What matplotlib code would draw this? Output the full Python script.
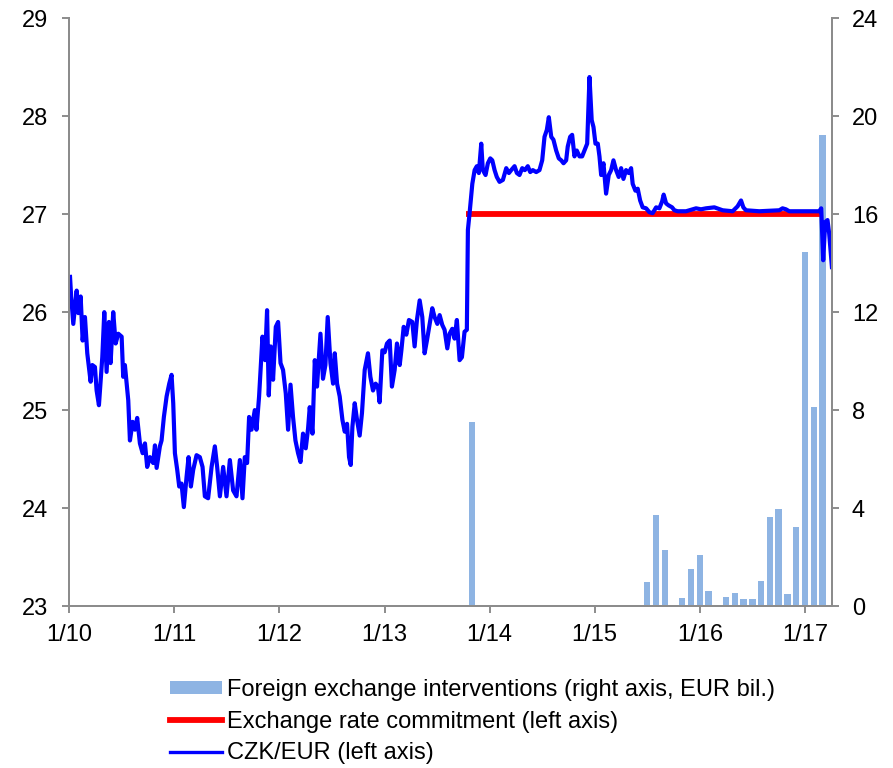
import matplotlib
matplotlib.use("Agg")
import matplotlib.pyplot as plt
from matplotlib.patches import Patch
from matplotlib.lines import Line2D

plt.rcParams['font.family'] = ['Liberation Sans', 'DejaVu Sans']

# ---- data ----
# monthly FX interventions (EUR bil.), month label "YYYY-MM"
int_months = ["2013-11", "2015-07", "2015-08", "2015-09", "2015-10", "2015-11", "2015-12",
              "2016-01", "2016-02", "2016-03", "2016-04", "2016-05", "2016-06", "2016-07",
              "2016-08", "2016-09", "2016-10", "2016-11", "2016-12",
              "2017-01", "2017-02", "2017-03"]
int_values = [7.5, 1.0, 3.7, 2.3, 0.0, 0.34, 1.5,
              2.1, 0.6, 0.0, 0.35, 0.55, 0.29, 0.29,
              1.02, 3.65, 3.95, 0.5, 3.22,
              14.45, 8.12, 19.22]

# CZK/EUR (time as decimal year)
czk_t = [2010.007, 2010.016, 2010.038, 2010.070, 2010.086, 2010.108, 2010.127, 2010.149, 2010.171, 2010.203,
         2010.219, 2010.244, 2010.260, 2010.282, 2010.314, 2010.333, 2010.355, 2010.377, 2010.393, 2010.418,
         2010.441, 2010.466, 2010.498, 2010.513, 2010.529, 2010.561, 2010.577, 2010.603, 2010.625, 2010.646,
         2010.672, 2010.698, 2010.720, 2010.741, 2010.767, 2010.798, 2010.815, 2010.831, 2010.862, 2010.878,
         2010.900, 2010.926, 2010.951, 2010.973, 2010.989, 2011.005, 2011.027, 2011.046, 2011.068, 2011.090,
         2011.116, 2011.135, 2011.157, 2011.179, 2011.211, 2011.242, 2011.268, 2011.290, 2011.321, 2011.354,
         2011.385, 2011.407, 2011.433, 2011.464, 2011.496, 2011.528, 2011.559, 2011.591, 2011.623, 2011.648,
         2011.670, 2011.692, 2011.711, 2011.734, 2011.765, 2011.781, 2011.806, 2011.838, 2011.863, 2011.882,
         2011.898, 2011.917, 2011.939, 2011.965, 2011.987, 2012.010, 2012.034, 2012.060, 2012.082, 2012.105,
         2012.129, 2012.152, 2012.177, 2012.200, 2012.224, 2012.250, 2012.272, 2012.288, 2012.314, 2012.336,
         2012.357, 2012.390, 2012.414, 2012.437, 2012.459, 2012.485, 2012.510, 2012.526, 2012.548, 2012.573,
         2012.599, 2012.621, 2012.643, 2012.662, 2012.678, 2012.694, 2012.716, 2012.738, 2012.763, 2012.785,
         2012.811, 2012.842, 2012.865, 2012.890, 2012.915, 2012.937, 2012.953, 2012.979, 2013.001, 2013.023,
         2013.049, 2013.070, 2013.096, 2013.118, 2013.144, 2013.160, 2013.182, 2013.207, 2013.232, 2013.264,
         2013.286, 2013.308, 2013.334, 2013.359, 2013.381, 2013.403, 2013.429, 2013.454, 2013.476, 2013.502,
         2013.524, 2013.549, 2013.571, 2013.597, 2013.619, 2013.644, 2013.666, 2013.688, 2013.714, 2013.736,
         2013.761, 2013.783, 2013.793, 2013.809, 2013.835, 2013.857, 2013.878, 2013.897, 2013.920, 2013.935,
         2013.961, 2013.983, 2014.006, 2014.025, 2014.047, 2014.068, 2014.094, 2014.126, 2014.158, 2014.183,
         2014.205, 2014.237, 2014.259, 2014.284, 2014.310, 2014.335, 2014.363, 2014.386, 2014.411, 2014.443,
         2014.474, 2014.500, 2014.522, 2014.544, 2014.563, 2014.586, 2014.607, 2014.633, 2014.658, 2014.681,
         2014.703, 2014.728, 2014.743, 2014.766, 2014.785, 2014.807, 2014.829, 2014.855, 2014.880, 2014.902,
         2014.928, 2014.950, 2014.971, 2014.988, 2015.007, 2015.029, 2015.045, 2015.061, 2015.083, 2015.108,
         2015.133, 2015.156, 2015.178, 2015.203, 2015.228, 2015.251, 2015.273, 2015.298, 2015.323, 2015.346,
         2015.361, 2015.387, 2015.409, 2015.432, 2015.456, 2015.489, 2015.520, 2015.551, 2015.584, 2015.615,
         2015.641, 2015.656, 2015.679, 2015.703, 2015.736, 2015.758, 2015.789, 2015.869, 2015.964, 2016.011,
         2016.059, 2016.138, 2016.217, 2016.312, 2016.359, 2016.392, 2016.414, 2016.439, 2016.566, 2016.756,
         2016.787, 2016.819, 2016.851, 2017.136, 2017.155, 2017.174, 2017.193, 2017.215, 2017.231, 2017.257]
czk_v = [26.36, 26.19, 25.88, 26.22, 25.99, 26.16, 25.71, 25.95, 25.58, 25.29,
         25.46, 25.44, 25.20, 25.05, 25.54, 26.00, 25.39, 25.90, 25.48, 26.00,
         25.68, 25.78, 25.75, 25.34, 25.46, 25.10, 24.69, 24.88, 24.80, 24.92,
         24.66, 24.56, 24.66, 24.42, 24.52, 24.46, 24.64, 24.41, 24.63, 24.69,
         24.93, 25.14, 25.27, 25.36, 25.07, 24.56, 24.39, 24.22, 24.25, 24.01,
         24.32, 24.52, 24.22, 24.39, 24.54, 24.52, 24.42, 24.12, 24.10, 24.42,
         24.63, 24.42, 24.12, 24.42, 24.12, 24.49, 24.18, 24.12, 24.49, 24.10,
         24.52, 24.46, 24.93, 24.80, 25.00, 24.80, 25.14, 25.75, 25.51, 26.02,
         25.15, 25.65, 25.31, 25.85, 25.90, 25.48, 25.41, 25.17, 24.80, 25.26,
         24.93, 24.69, 24.56, 24.47, 24.76, 24.61, 24.81, 25.03, 24.76, 25.51,
         25.24, 25.78, 25.32, 25.46, 25.95, 25.48, 25.27, 25.58, 25.27, 25.14,
         24.90, 24.78, 24.86, 24.52, 24.44, 24.83, 25.07, 24.90, 24.74, 24.97,
         25.41, 25.58, 25.34, 25.20, 25.27, 25.24, 25.08, 25.61, 25.59, 25.68,
         25.71, 25.24, 25.41, 25.68, 25.46, 25.61, 25.85, 25.77, 25.92, 25.90,
         25.65, 25.92, 26.12, 25.95, 25.58, 25.71, 25.88, 26.04, 25.95, 25.88,
         25.97, 25.87, 25.82, 25.63, 25.78, 25.83, 25.73, 25.92, 25.51, 25.54,
         25.80, 25.82, 26.84, 27.01, 27.31, 27.45, 27.49, 27.42, 27.72, 27.45,
         27.40, 27.52, 27.57, 27.55, 27.45, 27.38, 27.33, 27.35, 27.47, 27.42,
         27.45, 27.49, 27.42, 27.40, 27.47, 27.45, 27.49, 27.43, 27.45, 27.43,
         27.45, 27.55, 27.79, 27.86, 27.99, 27.79, 27.76, 27.65, 27.57, 27.55,
         27.52, 27.55, 27.69, 27.79, 27.81, 27.59, 27.65, 27.59, 27.59, 27.65,
         27.72, 28.40, 27.96, 27.89, 27.72, 27.72, 27.59, 27.40, 27.52, 27.21,
         27.40, 27.45, 27.55, 27.45, 27.38, 27.47, 27.36, 27.45, 27.42, 27.47,
         27.31, 27.24, 27.26, 27.14, 27.07, 27.06, 27.02, 27.01, 27.07, 27.06,
         27.13, 27.20, 27.11, 27.09, 27.07, 27.04, 27.03, 27.03, 27.06, 27.05,
         27.06, 27.07, 27.04, 27.03, 27.08, 27.14, 27.07, 27.04, 27.03, 27.04,
         27.06, 27.05, 27.03, 27.03, 27.06, 26.53, 26.92, 26.94, 26.80, 26.46]

# exchange rate commitment
commit_start = 2013.778
commit_end = 2017.155
commit_level = 27.0

year_ticks = [2010, 2011, 2012, 2013, 2014, 2015, 2016, 2017]
year_labels = ["1/10", "1/11", "1/12", "1/13", "1/14", "1/15", "1/16", "1/17"]

# ---- figure ----
FS = 17
fig = plt.figure(figsize=(8.93, 7.68), dpi=100)
ax = fig.add_axes([0.0776, 0.2109, 0.8546, 0.7653])
ax2 = ax.twinx()
ax.set_zorder(ax2.get_zorder() + 1)
ax.patch.set_visible(False)

bar_x = [int(m[:4]) + (int(m[5:]) - 1) / 12 for m in int_months]
bar_color = '#8EB4E3'
ax2.bar(bar_x, int_values, width=0.72 / 12, color=bar_color, edgecolor='none')

ax.plot([commit_start, commit_end], [commit_level, commit_level], color='#FF0000', lw=4.2,
        solid_capstyle='butt')
ax.plot(czk_t, czk_v, color='#0000FF', lw=3.0, solid_joinstyle='round')

ax.set_xlim(2010.0, 2017.262)
ax.set_ylim(23, 29)
ax2.set_ylim(0, 24)
ax.set_yticks(range(23, 30))
ax2.set_yticks(range(0, 25, 4))
ax.set_xticks(year_ticks)
ax.set_xticklabels(year_labels)

spine_c = '#8C8C8C'
for a in (ax, ax2):
    for s in a.spines.values():
        s.set_color(spine_c)
        s.set_linewidth(1.4)
    a.spines['top'].set_visible(False)
ax.tick_params(axis='both', direction='out', length=5, width=1.4, color=spine_c,
               labelsize=FS, labelcolor='black')
ax.tick_params(axis='y', pad=10)
ax.tick_params(axis='x', pad=8)
ax2.tick_params(axis='y', direction='out', length=5, width=1.4, color=spine_c,
                labelsize=FS, labelcolor='black', pad=9)

handles = [Patch(facecolor=bar_color, edgecolor='none'),
           Line2D([], [], color='#FF0000', lw=4.2),
           Line2D([], [], color='#0000FF', lw=2.4)]
labels = ["Foreign exchange interventions (right axis, EUR bil.)",
          "Exchange rate commitment (left axis)",
          "CZK/EUR (left axis)"]
fig.legend(handles, labels, loc='upper left', bbox_to_anchor=(0.1904, 0.116),
           bbox_transform=fig.transFigure, frameon=False, fontsize=FS,
           handlelength=2.2, handleheight=0.5, handletextpad=0.21, labelspacing=0.41,
           borderaxespad=0, borderpad=0)

fig.savefig("out.png", dpi=100)
